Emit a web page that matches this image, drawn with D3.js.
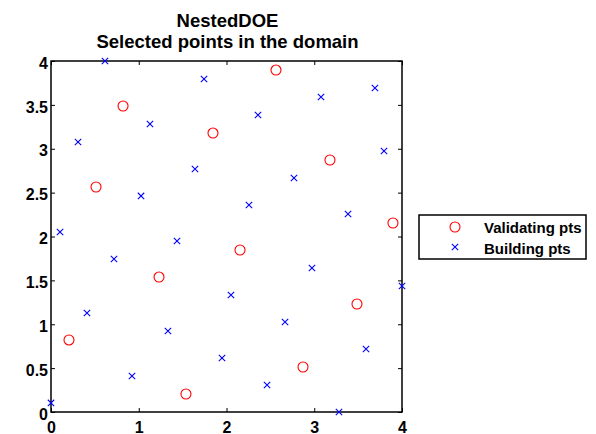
<!DOCTYPE html>
<html lang="en">
  <head>
    <meta charset="utf-8" />
    <title>NestedDOE</title>
    <script src="https://d3js.org/d3.v7.min.js"></script>
    <style type="text/css">
      body {
        margin: 0;
        background: #fff;
      }
      text {
        font-family: "Liberation Sans", Arial, sans-serif;
        font-weight: bold;
        fill: #000;
      }
    </style>
  </head>
  <body>
    <script type="text/javascript">
      // Building points (blue crosses)
      const buildX = [0.615, 1.128, 0.308, 1.744, 1.026, 1.641, 0.103, 1.436, 3.692, 3.077, 2.359, 3.795, 2.769, 2.256,
        3.385, 0.718, 0.41, 1.333, 0.923, 1.949, 0.0, 2.051, 2.974, 4.0, 2.667, 3.59, 2.462, 3.282];
      const buildY = [4.0, 3.282, 3.077, 3.795, 2.462, 2.769, 2.051, 1.949, 3.692, 3.59, 3.385, 2.974, 2.667, 2.359,
        2.256, 1.744, 1.128, 0.923, 0.41, 0.615, 0.103, 1.333, 1.641, 1.436, 1.026, 0.718, 0.308, 0.0];

      // Validating points (red circles)
      const validX = [0.821, 1.846, 0.513, 2.564, 3.179, 3.897, 2.154, 1.231, 0.205, 1.538, 3.487, 2.872];
      const validY = [3.487, 3.179, 2.564, 3.897, 2.872, 2.154, 1.846, 1.538, 0.821, 0.205, 1.231, 0.513];

      const xTicks = [0, 1, 2, 3, 4];
      const yTicks = [0, 0.5, 1, 1.5, 2, 2.5, 3, 3.5, 4];
      const titleLines = ["NestedDOE", "Selected points in the domain"];
      const legendLabels = ["Validating pts", "Building pts"];

      const w = 596;
      const h = 434;
      const mLeft = 51, mRight = 402, mTop = 61, mBottom = 412;

      const x = d3.scaleLinear().domain([0, 4]).range([mLeft, mRight]);
      const y = d3.scaleLinear().domain([0, 4]).range([mBottom, mTop]);

      const svg = d3.select("body").append("svg").attr("width", w).attr("height", h);

      //Title
      svg.selectAll(".title")
        .data(titleLines)
        .enter()
        .append("text")
        .attr("class", "title")
        .attr("x", (mLeft + mRight) / 2 + 1)
        .attr("y", (d, i) => 26.5 + i * 21.5)
        .attr("text-anchor", "middle")
        .style("font-size", "18.5px")
        .text(d => d);

      //Axes with inward ticks on all four sides
      const fmt = d3.format("");
      const axB = d3.axisBottom(x).tickValues(xTicks).tickSize(-4).tickFormat(fmt);
      const axT = d3.axisTop(x).tickValues(xTicks).tickSize(-4).tickFormat("");
      const axL = d3.axisLeft(y).tickValues(yTicks).tickSize(-4).tickFormat(fmt);
      const axR = d3.axisRight(y).tickValues(yTicks).tickSize(-4).tickFormat("");

      function styleAxis(g) {
        g.select(".domain").remove();
        g.selectAll(".tick line").attr("stroke", "#000").attr("stroke-width", 1);
        g.selectAll("text").style("font-size", "16px").attr("fill", "#000");
      }

      svg.append("g").attr("transform", "translate(0," + mBottom + ")").call(axB).call(styleAxis)
        .selectAll("text").attr("y", 20.5).attr("dy", 0);
      svg.append("g").attr("transform", "translate(0," + mTop + ")").call(axT).call(styleAxis);
      svg.append("g").attr("transform", "translate(" + mLeft + ",0)").call(axL).call(styleAxis)
        .selectAll("text").attr("x", -3).attr("dy", "0.45em");
      svg.append("g").attr("transform", "translate(" + mRight + ",0)").call(axR).call(styleAxis);

      //Box
      svg.append("rect")
        .attr("x", mLeft).attr("y", mTop)
        .attr("width", mRight - mLeft).attr("height", mBottom - mTop)
        .attr("fill", "none").attr("stroke", "#000").attr("stroke-width", 1.5);

      //Building points
      const crossPath = "M-3.2,-3.2L3.2,3.2M-3.2,3.2L3.2,-3.2";
      svg.selectAll(".build")
        .data(d3.range(buildX.length))
        .enter()
        .append("path")
        .attr("class", "build")
        .attr("transform", i => "translate(" + x(buildX[i]) + "," + y(buildY[i]) + ")")
        .attr("d", crossPath)
        .attr("stroke", "#0000ff")
        .attr("stroke-width", 1.1)
        .attr("fill", "none");

      //Validating points
      svg.selectAll(".valid")
        .data(d3.range(validX.length))
        .enter()
        .append("circle")
        .attr("class", "valid")
        .attr("cx", i => x(validX[i]))
        .attr("cy", i => y(validY[i]))
        .attr("r", 5)
        .attr("stroke", "#ff0000")
        .attr("stroke-width", 1.1)
        .attr("fill", "none");

      //Legend
      const lg = svg.append("g").attr("transform", "translate(419,215)");
      lg.append("rect")
        .attr("width", 167).attr("height", 44)
        .attr("fill", "#fff").attr("stroke", "#000").attr("stroke-width", 1.5);
      lg.append("circle")
        .attr("cx", 36).attr("cy", 12).attr("r", 5)
        .attr("stroke", "#ff0000").attr("stroke-width", 1.1).attr("fill", "none");
      lg.append("path")
        .attr("transform", "translate(36,32)")
        .attr("d", crossPath)
        .attr("stroke", "#0000ff").attr("stroke-width", 1.1).attr("fill", "none");
      lg.selectAll(".lt")
        .data(legendLabels)
        .enter()
        .append("text")
        .attr("class", "lt")
        .attr("x", 65)
        .attr("y", (d, i) => 18 + i * 20.5)
        .style("font-size", "15px")
        .text(d => d);
    </script>
  </body>
</html>
